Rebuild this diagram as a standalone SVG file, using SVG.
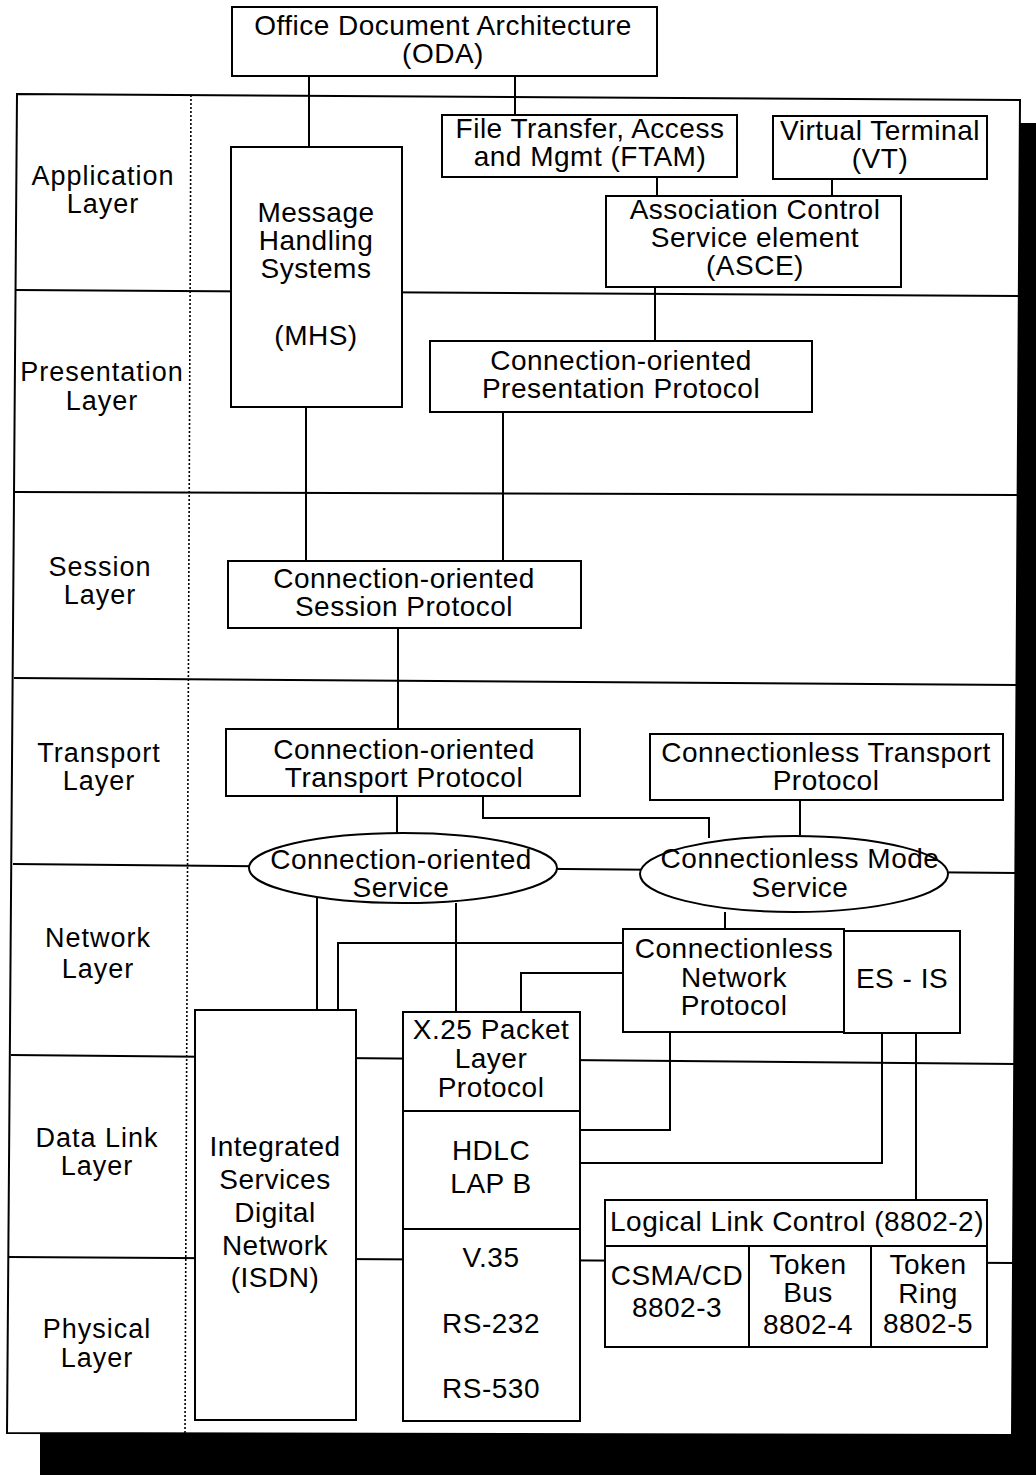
<svg xmlns="http://www.w3.org/2000/svg" width="1036" height="1475" viewBox="0 0 1036 1475">
<style>
.n{fill:#fff;stroke:#000;stroke-width:2}
.c{fill:none;stroke:#000;stroke-width:2}
.d{fill:none;stroke:#000;stroke-width:1.6;stroke-dasharray:2 2}
text{font-family:"Liberation Sans",Arial,sans-serif;font-size:28px;letter-spacing:0.5px;text-anchor:middle;fill:#000}
.l{font-size:27px;letter-spacing:1px}
</style>
<rect x="40" y="123" width="996" height="1352" fill="#000"/>
<path d="M17,94 L1020,100 L1012,1435 L7,1433 Z" fill="#fff" stroke="#000" stroke-width="2"/>
<g id="layers">
<path class="d" d="M191,95 L185,1433"/>
<path class="c" d="M16,290 L1019,296 M15,492 L1018,495 M14,678 L1018,685 M13,864 L1017,873 M11,1055 L1016,1064 M9,1257 L1013,1263"/>
<text class="l" x="103" y="185">Application</text><text class="l" x="103" y="213">Layer</text>
<text class="l" x="102" y="381">Presentation</text><text class="l" x="102" y="410">Layer</text>
<text class="l" x="100" y="576">Session</text><text class="l" x="100" y="604">Layer</text>
<text class="l" x="99" y="762">Transport</text><text class="l" x="99" y="790">Layer</text>
<text class="l" x="98" y="947">Network</text><text class="l" x="98" y="978">Layer</text>
<text class="l" x="97" y="1147">Data Link</text><text class="l" x="97" y="1175">Layer</text>
<text class="l" x="97" y="1338">Physical</text><text class="l" x="97" y="1367">Layer</text>
</g>
<g id="connectors">
<path class="c" d="M309,76 V147"/>
<path class="c" d="M515,76 V115"/>
<path class="c" d="M657,177 V196"/>
<path class="c" d="M832,179 V196"/>
<path class="c" d="M655,287 V341"/>
<path class="c" d="M306,407 V561"/>
<path class="c" d="M503,412 V561"/>
<path class="c" d="M398,628 V729"/>
<path class="c" d="M397,796 V833"/>
<path class="c" d="M483,796 V818 H709 V838"/>
<path class="c" d="M800,800 V835"/>
<path class="c" d="M725,912 V929"/>
<path class="c" d="M317,898 V1010"/>
<path class="c" d="M456,903 V1012"/>
<path class="c" d="M623,943 H338 V1010"/>
<path class="c" d="M623,973 H521 V1012"/>
<path class="c" d="M670,1032 V1130 H580"/>
<path class="c" d="M882,1033 V1163 H580"/>
<path class="c" d="M916,1033 V1200"/>
</g>
<g id="oda"><rect class="n" x="232" y="7" width="425" height="69"/><text x="443" y="35">Office Document Architecture</text><text x="443" y="63">(ODA)</text></g>
<g id="mhs"><rect class="n" x="231" y="147" width="171" height="260"/><text x="316" y="222">Message</text><text x="316" y="250">Handling</text><text x="316" y="278">Systems</text><text x="316" y="345">(MHS)</text></g>
<g id="ftam"><rect class="n" x="442" y="115" width="295" height="62"/><text x="590" y="138">File Transfer, Access</text><text x="590" y="166">and Mgmt (FTAM)</text></g>
<g id="vt"><rect class="n" x="773" y="116" width="214" height="63"/><text x="880" y="140">Virtual Terminal</text><text x="880" y="168">(VT)</text></g>
<g id="asce"><rect class="n" x="606" y="196" width="295" height="91"/><text x="755" y="219">Association Control</text><text x="755" y="247">Service element</text><text x="755" y="275">(ASCE)</text></g>
<g id="pres"><rect class="n" x="430" y="341" width="382" height="71"/><text x="621" y="370">Connection-oriented</text><text x="621" y="398">Presentation Protocol</text></g>
<g id="session"><rect class="n" x="228" y="561" width="353" height="67"/><text x="404" y="588">Connection-oriented</text><text x="404" y="616">Session Protocol</text></g>
<g id="cotp"><rect class="n" x="226" y="729" width="354" height="67"/><text x="404" y="759">Connection-oriented</text><text x="404" y="787">Transport Protocol</text></g>
<g id="cltp"><rect class="n" x="650" y="734" width="353" height="66"/><text x="826" y="762">Connectionless Transport</text><text x="826" y="790">Protocol</text></g>
<g id="cos"><ellipse class="n" cx="403" cy="868" rx="154" ry="35"/><text x="401" y="869">Connection-oriented</text><text x="401" y="897">Service</text></g>
<g id="cls"><ellipse class="n" cx="794" cy="874" rx="154" ry="38"/><text x="800" y="868">Connectionless Mode</text><text x="800" y="897">Service</text></g>
<g id="clnp"><rect class="n" x="623" y="929" width="221" height="103"/><text x="734" y="958">Connectionless</text><text x="734" y="987">Network</text><text x="734" y="1015">Protocol</text></g>
<g id="esis"><rect class="n" x="844" y="931" width="116" height="102"/><text x="902" y="988">ES - IS</text></g>
<g id="isdn"><rect class="n" x="195" y="1010" width="161" height="410"/><text x="275" y="1156">Integrated</text><text x="275" y="1189">Services</text><text x="275" y="1222">Digital</text><text x="275" y="1255">Network</text><text x="275" y="1287">(ISDN)</text></g>
<g id="x25"><rect class="n" x="403" y="1012" width="177" height="99"/><text x="491" y="1039">X.25 Packet</text><text x="491" y="1068">Layer</text><text x="491" y="1097">Protocol</text></g>
<g id="hdlc"><rect class="n" x="403" y="1111" width="177" height="118"/><text x="491" y="1160">HDLC</text><text x="491" y="1193">LAP B</text></g>
<g id="phys"><rect class="n" x="403" y="1229" width="177" height="192"/><text x="491" y="1267">V.35</text><text x="491" y="1333">RS-232</text><text x="491" y="1398">RS-530</text></g>
<g id="llc"><rect class="n" x="605" y="1200" width="382" height="46"/><text x="797" y="1231">Logical Link Control (8802-2)</text></g>
<g id="csma"><rect class="n" x="605" y="1246" width="144" height="101"/><text x="677" y="1285">CSMA/CD</text><text x="677" y="1317">8802-3</text></g>
<g id="tbus"><rect class="n" x="749" y="1246" width="122" height="101"/><text x="808" y="1274">Token</text><text x="808" y="1302">Bus</text><text x="808" y="1334">8802-4</text></g>
<g id="tring"><rect class="n" x="871" y="1246" width="116" height="101"/><text x="928" y="1274">Token</text><text x="928" y="1303">Ring</text><text x="928" y="1333">8802-5</text></g>
</svg>
